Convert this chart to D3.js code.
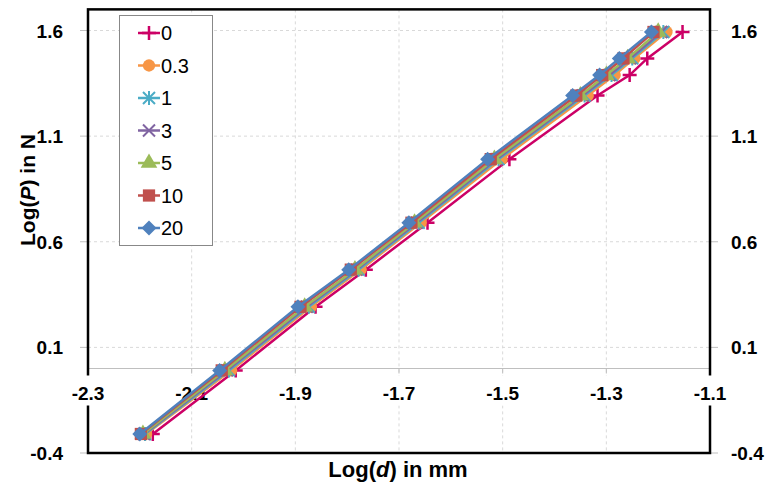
<!DOCTYPE html>
<html>
<head>
<meta charset="utf-8">
<script src="https://cdn.jsdelivr.net/npm/d3@7"></script>
<style>
  body { margin: 0; background: #fff; }
  svg { display: block; font-family: "Liberation Sans", Arial, sans-serif; }
</style>
</head>
<body>
<div id="chart"></div>
<script>
// load levels, log(P) in N
let logP = [-0.310, -0.009, 0.292, 0.468, 0.690, 0.991, 1.292, 1.389, 1.468, 1.593];

let seriesNames = ['0', '0.3', '1', '3', '5', '10', '20'];

// log(d) in mm for each series
let d0   = [-2.175, -2.015, -1.861, -1.764, -1.645, -1.487, -1.317, -1.255, -1.221, -1.153];
let d03  = [-2.188, -2.024, -1.870, -1.774, -1.658, -1.502, -1.336, -1.284, -1.246, -1.184];
let d1   = [-2.190, -2.028, -1.874, -1.778, -1.662, -1.508, -1.342, -1.290, -1.250, -1.190];
let d3_  = [-2.192, -2.032, -1.878, -1.782, -1.666, -1.512, -1.346, -1.294, -1.254, -1.194];
let d5   = [-2.194, -2.036, -1.882, -1.785, -1.670, -1.516, -1.350, -1.300, -1.259, -1.200];
let d10  = [-2.198, -2.042, -1.890, -1.793, -1.676, -1.523, -1.358, -1.308, -1.267, -1.209];
let d20  = [-2.200, -2.046, -1.895, -1.797, -1.681, -1.529, -1.365, -1.313, -1.275, -1.213];

let xTicks = [-2.3, -2.1, -1.9, -1.7, -1.5, -1.3, -1.1];
let yTicks = [-0.4, 0.1, 0.6, 1.1, 1.6];

(function () {
    let width = 779, height = 487;
    let svg = d3.select('#chart').append('svg')
        .attr('width', width)
        .attr('height', height);

    let x = d3.scaleLinear().domain([-2.3, -1.1]).range([88, 710]);
    let y = d3.scaleLinear().domain([-0.4, 1.6]).range([453, 30.5]);

    let colors = ['#CC0066', '#F79646', '#4BACC6', '#8064A2', '#9BBB59', '#C0504D', '#4F81BD'];
    let marks = ['plus', 'circle', 'star', 'cross', 'triangle', 'square', 'diamond'];
    let xData = [d0, d03, d1, d3_, d5, d10, d20];

    let fmt = function (d) { return d.toFixed(1); };  // plain hyphen minus like the original

    let series = seriesNames.map(function (name, i) {
        return {
            name: name,
            color: colors[i],
            mark: marks[i],
            points: xData[i].map(function (v, j) { return [v, logP[j]]; })
        };
    });

    // grid
    svg.append('g').selectAll('line')
        .data(yTicks.filter(function (t) { return t > -0.4; }))
        .enter().append('line')
        .attr('x1', x(-2.3)).attr('x2', x(-1.1))
        .attr('y1', function (d) { return y(d); })
        .attr('y2', function (d) { return y(d); })
        .attr('stroke', '#d9d9d9')
        .attr('stroke-dasharray', '3,3');

    svg.append('g').selectAll('line')
        .data(xTicks.slice(1, -1))
        .enter().append('line')
        .attr('y1', y(1.7)).attr('y2', y(-0.4))
        .attr('x1', function (d) { return x(d); })
        .attr('x2', function (d) { return x(d); })
        .attr('stroke', '#d9d9d9')
        .attr('stroke-dasharray', '3,3');

    // x axis line at y = 0
    svg.append('line')
        .attr('x1', x(-2.3)).attr('x2', x(-1.1))
        .attr('y1', y(0)).attr('y2', y(0))
        .attr('stroke', '#bfbfbf').attr('stroke-width', 1.2);
    svg.append('g').selectAll('line')
        .data(xTicks)
        .enter().append('line')
        .attr('x1', function (d) { return x(d); })
        .attr('x2', function (d) { return x(d); })
        .attr('y1', y(0)).attr('y2', y(0) + 5)
        .attr('stroke', '#bfbfbf');

    // y tick marks, both sides
    svg.append('g').selectAll('line')
        .data(yTicks)
        .enter().append('line')
        .attr('x1', x(-2.3) - 8).attr('x2', x(-2.3))
        .attr('y1', function (d) { return y(d); })
        .attr('y2', function (d) { return y(d); })
        .attr('stroke', '#bfbfbf');
    svg.append('g').selectAll('line')
        .data(yTicks)
        .enter().append('line')
        .attr('x1', x(-1.1)).attr('x2', x(-1.1) + 8)
        .attr('y1', function (d) { return y(d); })
        .attr('y2', function (d) { return y(d); })
        .attr('stroke', '#bfbfbf');

    // plot frame
    svg.append('rect')
        .attr('x', x(-2.3)).attr('y', y(1.7))
        .attr('width', x(-1.1) - x(-2.3))
        .attr('height', y(-0.4) - y(1.7))
        .attr('fill', 'none')
        .attr('stroke', '#000')
        .attr('stroke-width', 2.5);

    // y labels
    svg.append('g').selectAll('text')
        .data(yTicks)
        .enter().append('text')
        .attr('x', x(-2.3) - 25)
        .attr('y', function (d) { return y(d) + 7; })
        .attr('text-anchor', 'end')
        .attr('font-size', 19).attr('font-weight', 'bold')
        .text(fmt);
    svg.append('g').selectAll('text')
        .data(yTicks)
        .enter().append('text')
        .attr('x', x(-1.1) + 21)
        .attr('y', function (d) { return y(d) + 7; })
        .attr('font-size', 19).attr('font-weight', 'bold')
        .text(fmt);

    // x labels with white background
    let xl = svg.append('g').selectAll('g')
        .data(xTicks)
        .enter().append('g')
        .attr('transform', function (d) { return 'translate(' + x(d) + ',' + (y(0) + 31) + ')'; });
    xl.append('rect')
        .attr('x', -21).attr('y', -24)
        .attr('width', 42).attr('height', 30)
        .attr('fill', '#fff');
    xl.append('text')
        .attr('text-anchor', 'middle')
        .attr('font-size', 19).attr('font-weight', 'bold')
        .text(fmt);

    // axis titles
    let xt = svg.append('text')
        .attr('x', 398).attr('y', 477)
        .attr('text-anchor', 'middle')
        .attr('font-size', 22).attr('font-weight', 'bold');
    xt.append('tspan').text('Log(');
    xt.append('tspan').attr('font-style', 'italic').text('d');
    xt.append('tspan').text(') in mm');

    let yt = svg.append('text')
        .attr('transform', 'translate(35,190) rotate(-90)')
        .attr('text-anchor', 'middle')
        .attr('font-size', 21).attr('font-weight', 'bold');
    yt.append('tspan').text('Log(');
    yt.append('tspan').attr('font-style', 'italic').text('P');
    yt.append('tspan').text(') in N');

    // markers
    function drawMark(g, s) {
        if (s.mark === 'plus') {
            g.append('path').attr('d', 'M-7,0H7M0,-7V7')
                .attr('stroke', s.color).attr('stroke-width', 2.5).attr('fill', 'none');
        } else if (s.mark === 'star') {
            g.append('path').attr('d', 'M-6,-6L6,6M-6,6L6,-6M0,-7V7')
                .attr('stroke', s.color).attr('stroke-width', 2).attr('fill', 'none');
        } else if (s.mark === 'cross') {
            g.append('path').attr('d', 'M-6,-6L6,6M-6,6L6,-6')
                .attr('stroke', s.color).attr('stroke-width', 2).attr('fill', 'none');
        } else if (s.mark === 'diamond') {
            g.append('path').attr('d', 'M0,-7.5L7.5,0L0,7.5L-7.5,0Z')
                .attr('fill', s.color);
        } else {
            let types = { circle: d3.symbolCircle, triangle: d3.symbolTriangle, square: d3.symbolSquare };
            let sizes = { circle: 120, triangle: 120, square: 150 };
            g.append('path')
                .attr('d', d3.symbol().type(types[s.mark]).size(sizes[s.mark])())
                .attr('fill', s.color);
        }
    }

    let line = d3.line()
        .x(function (d) { return x(d[0]); })
        .y(function (d) { return y(d[1]); });

    let sg = svg.append('g').selectAll('g')
        .data(series)
        .enter().append('g');

    sg.append('path')
        .attr('d', function (s) { return line(s.points); })
        .attr('fill', 'none')
        .attr('stroke', function (s) { return s.color; })
        .attr('stroke-width', 2.5);

    sg.each(function (s) {
        let g = d3.select(this);
        s.points.forEach(function (p) {
            let m = g.append('g').attr('transform', 'translate(' + x(p[0]) + ',' + y(p[1]) + ')');
            drawMark(m, s);
        });
    });

    // legend
    let legend = svg.append('g');
    legend.append('rect')
        .attr('x', 119.5).attr('y', 15.5)
        .attr('width', 93).attr('height', 230)
        .attr('fill', '#fff')
        .attr('stroke', '#888');
    let li = legend.selectAll('g.item')
        .data(series)
        .enter().append('g')
        .attr('class', 'item')
        .attr('transform', function (s, i) { return 'translate(0,' + (33 + i * 32.5) + ')'; });
    li.append('line')
        .attr('x1', 138).attr('x2', 160)
        .attr('stroke', function (s) { return s.color; })
        .attr('stroke-width', 2.5);
    li.each(function (s) {
        let m = d3.select(this).append('g').attr('transform', 'translate(149,0)');
        drawMark(m, s);
    });
    li.append('text')
        .attr('x', 161).attr('y', 7)
        .attr('font-size', 20)
        .text(function (s) { return s.name; });
})();
</script>
</body>
</html>
